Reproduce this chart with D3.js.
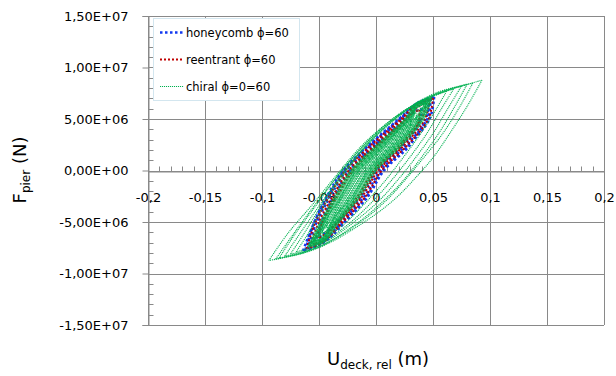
<!DOCTYPE html>
<html>
<head>
<meta charset="utf-8">
<script src="https://cdn.jsdelivr.net/npm/d3@7"></script>
<style>
body { margin: 0; background: #fff; }
svg { display: block; }
text { font-family: "DejaVu Sans", sans-serif; fill: #000; }
</style>
</head>
<body>
<div id="chart"></div>
<script>
// Size
var chart_width  = 616;
var chart_height = 376;

// Axis ticks
var xTicks      = [-0.2, -0.15, -0.1, -0.05, 0, 0.05, 0.1, 0.15, 0.2];
var xTickLabels = ["-0,2", "-0,15", "-0,1", "-0,05", "0", "0,05", "0,1", "0,15", "0,2"];
var yTicks      = [1.5e7, 1e7, 5e6, 0, -5e6, -1e7, -1.5e7];
var yTickLabels = ["1,50E+07", "1,00E+07", "5,00E+06", "0,00E+00", "-5,00E+06", "-1,00E+07", "-1,50E+07"];

var seriesNames = ["honeycomb \u03d5=60", "reentrant \u03d5=60", "chiral \u03d5=0=60"];

// Hysteresis loops: [up branch, down branch], points are [U (m), F (MN)]
var honeycombLoops = [
  [[[-0.064,-7.8],[-0.054,-5],[-0.042,-2.5],[-0.028,0],[-0.005,2.5],[0.021,5],[0.037,6.6],[0.051,7.15]],
   [[0.051,7.15],[0.047,5],[0.029,2.5],[0.006,0],[-0.008,-2.5],[-0.028,-5],[-0.048,-7.1],[-0.064,-7.8]]],
  [[[-0.060,-7.6],[-0.052,-5],[-0.040,-2.5],[-0.026,0],[-0.003,2.5],[0.022,5],[0.035,6.4],[0.048,7.0]],
   [[0.048,7.0],[0.045,5],[0.027,2.5],[0.004,0],[-0.010,-2.5],[-0.030,-5],[-0.046,-6.9],[-0.060,-7.6]]],
  [[[-0.062,-7.7],[-0.054,-5],[-0.043,-2.5],[-0.029,0],[-0.006,2.5],[0.020,5],[0.033,6.3],[0.046,6.9]],
   [[0.046,6.9],[0.045,5.4],[0.030,2.5],[0.007,0],[-0.007,-2.5],[-0.027,-5],[-0.046,-7.0],[-0.062,-7.7]]],
  [[[-0.052,-6.6],[-0.048,-5],[-0.037,-2.5],[-0.023,0],[0.000,2.5],[0.022,4.6],[0.032,5.6],[0.040,6.0]],
   [[0.040,6.0],[0.038,4.6],[0.024,2.5],[0.001,0],[-0.013,-2.5],[-0.033,-5],[-0.045,-6.1],[-0.052,-6.6]]]
];

var reentrantLoops = [
  [[[-0.061,-7.6],[-0.053,-5],[-0.041,-2.5],[-0.027,0],[-0.004,2.5],[0.022,5],[0.036,6.5],[0.050,7.05]],
   [[0.050,7.05],[0.046,5],[0.028,2.5],[0.005,0],[-0.009,-2.5],[-0.029,-5],[-0.047,-7.0],[-0.061,-7.6]]],
  [[[-0.058,-7.4],[-0.050,-5],[-0.038,-2.5],[-0.024,0],[-0.001,2.5],[0.024,5],[0.036,6.3],[0.047,6.9]],
   [[0.047,6.9],[0.043,5],[0.025,2.5],[0.002,0],[-0.012,-2.5],[-0.031,-5],[-0.046,-6.8],[-0.058,-7.4]]],
  [[[-0.055,-7.2],[-0.047,-5],[-0.034,-2.5],[-0.020,0],[0.003,2.5],[0.027,5],[0.036,6.1],[0.044,6.6]],
   [[0.044,6.6],[0.040,5],[0.021,2.5],[-0.002,0],[-0.016,-2.5],[-0.034,-5],[-0.046,-6.6],[-0.055,-7.2]]],
  [[[-0.050,-6.6],[-0.047,-5],[-0.036,-2.5],[-0.022,0],[0.001,2.5],[0.023,4.7],[0.031,5.5],[0.038,5.9]],
   [[0.038,5.9],[0.037,4.6],[0.023,2.5],[0.000,0],[-0.014,-2.5],[-0.033,-5],[-0.044,-6.1],[-0.050,-6.6]]]
];

var chiralLoops = [
  // wide loops
  [[[-0.094,-8.74],[-0.077,-6.06],[-0.057,-3.47],[-0.033,-0.23],[-0.013,2.36],[0.010,4.62],[0.031,6.24],[0.057,7.53],[0.093,8.77]],
   [[0.093,8.77],[0.080,6.24],[0.065,3.65],[0.051,1.39],[0.036,-0.55],[0.016,-2.82],[-0.007,-4.76],[-0.042,-7.09],[-0.064,-8.03],[-0.094,-8.74]]],
  [[[-0.088,-8.6],[-0.072,-6.1],[-0.054,-3.4],[-0.032,-0.3],[-0.011,2.4],[0.011,4.7],[0.032,6.3],[0.056,7.6],[0.080,8.4]],
   [[0.080,8.4],[0.069,6.2],[0.055,3.6],[0.038,1.0],[0.026,-0.7],[0.007,-2.9],[-0.014,-4.9],[-0.044,-7.1],[-0.064,-8.0],[-0.088,-8.6]]],
  [[[-0.085,-8.5],[-0.070,-6.0],[-0.052,-3.3],[-0.030,0],[-0.010,2.5],[0.012,4.7],[0.033,6.3],[0.057,7.6],[0.085,8.5]],
   [[0.085,8.5],[0.073,6.1],[0.058,3.5],[0.040,1.0],[0.028,-0.6],[0.010,-2.8],[-0.011,-4.8],[-0.042,-7.0],[-0.062,-7.9],[-0.085,-8.5]]],
  [[[-0.080,-8.3],[-0.066,-6.0],[-0.049,-3.3],[-0.029,-0.3],[-0.009,2.4],[0.013,4.7],[0.033,6.4],[0.054,7.6],[0.075,8.2]],
   [[0.075,8.2],[0.064,6.2],[0.050,3.6],[0.033,1.0],[0.020,-0.8],[0.003,-2.9],[-0.018,-4.9],[-0.046,-7.1],[-0.063,-7.9],[-0.080,-8.3]]],
  [[[-0.075,-8.1],[-0.063,-6.1],[-0.048,-3.4],[-0.030,-0.4],[-0.010,2.3],[0.012,4.6],[0.031,6.2],[0.050,7.3],[0.068,7.9]],
   [[0.068,7.9],[0.058,6.1],[0.044,3.5],[0.027,0.9],[0.014,-0.9],[-0.003,-3.0],[-0.023,-5.1],[-0.048,-7.1],[-0.062,-7.8],[-0.075,-8.1]]],
  [[[-0.070,-7.9],[-0.060,-6.2],[-0.046,-3.5],[-0.029,-0.5],[-0.009,2.3],[0.013,4.6],[0.031,6.1],[0.048,7.1],[0.062,7.7]],
   [[0.062,7.7],[0.053,6.0],[0.038,3.4],[0.020,0.7],[0.008,-1.0],[-0.009,-3.1],[-0.028,-5.2],[-0.050,-7.0],[-0.061,-7.6],[-0.070,-7.9]]],
  // dense band
  [[[-0.060,-7.40],[-0.0492,-5],[-0.0365,-2.5],[-0.0225,0],[0.0005,2.5],[0.0250,5],[0.0352,6.55],[0.049,7.05]],
   [[0.049,7.05],[0.0422,5],[0.0235,2.5],[0.0005,0],[-0.0135,-2.5],[-0.0320,-5],[-0.0462,-6.95],[-0.060,-7.40]]],
  [[[-0.059,-7.35],[-0.0484,-5],[-0.0355,-2.5],[-0.0215,0],[0.0015,2.5],[0.0257,5],[0.0348,6.5],[0.048,7.00]],
   [[0.048,7.00],[0.0414,5],[0.0225,2.5],[-0.0005,0],[-0.0145,-2.5],[-0.0327,-5],[-0.0458,-6.9],[-0.059,-7.35]]],
  [[[-0.059,-7.30],[-0.0476,-5],[-0.0345,-2.5],[-0.0205,0],[0.0025,2.5],[0.0263,5],[0.0352,6.45],[0.048,6.95]],
   [[0.048,6.95],[0.0406,5],[0.0215,2.5],[-0.0015,0],[-0.0155,-2.5],[-0.0334,-5],[-0.0462,-6.85],[-0.059,-7.30]]],
  [[[-0.058,-7.25],[-0.0468,-5],[-0.0335,-2.5],[-0.0195,0],[0.0035,2.5],[0.0270,5],[0.0348,6.4],[0.047,6.90]],
   [[0.047,6.90],[0.0398,5],[0.0205,2.5],[-0.0025,0],[-0.0165,-2.5],[-0.0340,-5],[-0.0458,-6.8],[-0.058,-7.25]]],
  [[[-0.058,-7.20],[-0.0460,-5],[-0.0325,-2.5],[-0.0185,0],[0.0045,2.5],[0.0278,5],[0.0352,6.35],[0.047,6.85]],
   [[0.047,6.85],[0.0390,5],[0.0195,2.5],[-0.0035,0],[-0.0175,-2.5],[-0.0348,-5],[-0.0462,-6.75],[-0.058,-7.20]]],
  [[[-0.057,-7.15],[-0.0452,-5],[-0.0315,-2.5],[-0.0175,0],[0.0055,2.5],[0.0285,5],[0.0348,6.3],[0.046,6.80]],
   [[0.046,6.80],[0.0382,5],[0.0185,2.5],[-0.0045,0],[-0.0185,-2.5],[-0.0355,-5],[-0.0458,-6.7],[-0.057,-7.15]]],
  [[[-0.057,-7.10],[-0.0444,-5],[-0.0305,-2.5],[-0.0165,0],[0.0065,2.5],[0.0292,5],[0.0352,6.25],[0.046,6.75]],
   [[0.046,6.75],[0.0374,5],[0.0175,2.5],[-0.0055,0],[-0.0195,-2.5],[-0.0362,-5],[-0.0462,-6.65],[-0.057,-7.10]]],
  [[[-0.056,-7.05],[-0.0436,-5],[-0.0295,-2.5],[-0.0155,0],[0.0075,2.5],[0.0299,5],[0.0348,6.2],[0.045,6.70]],
   [[0.045,6.70],[0.0366,5],[0.0165,2.5],[-0.0065,0],[-0.0205,-2.5],[-0.0369,-5],[-0.0458,-6.6],[-0.056,-7.05]]],
  [[[-0.056,-7.00],[-0.0428,-5],[-0.0285,-2.5],[-0.0145,0],[0.0085,2.5],[0.0306,5],[0.0352,6.15],[0.045,6.65]],
   [[0.045,6.65],[0.0358,5],[0.0155,2.5],[-0.0075,0],[-0.0215,-2.5],[-0.0376,-5],[-0.0462,-6.55],[-0.056,-7.00]]],
  [[[-0.055,-6.95],[-0.0420,-5],[-0.0275,-2.5],[-0.0135,0],[0.0095,2.5],[0.0312,5],[0.0348,6.1],[0.044,6.60]],
   [[0.044,6.60],[0.0350,5],[0.0145,2.5],[-0.0085,0],[-0.0225,-2.5],[-0.0382,-5],[-0.0458,-6.5],[-0.055,-6.95]]],
  [[[-0.055,-6.90],[-0.0412,-5],[-0.0265,-2.5],[-0.0125,0],[0.0105,2.5],[0.0320,5],[0.0352,6.05],[0.044,6.55]],
   [[0.044,6.55],[0.0342,5],[0.0135,2.5],[-0.0095,0],[-0.0235,-2.5],[-0.0390,-5],[-0.0462,-6.45],[-0.055,-6.90]]],
  [[[-0.054,-6.85],[-0.0406,-5],[-0.0258,-2.5],[-0.0118,0],[0.0112,2.5],[0.0324,5],[0.0346,6.0],[0.043,6.50]],
   [[0.043,6.50],[0.0336,5],[0.0128,2.5],[-0.0102,0],[-0.0242,-2.5],[-0.0394,-5],[-0.0456,-6.4],[-0.054,-6.85]]],
  [[[-0.055,-6.9],[-0.048,-5],[-0.035,-2.5],[-0.021,0],[0.002,2.5],[0.026,5],[0.035,6.0],[0.044,6.5]],
   [[0.044,6.5],[0.041,5],[0.022,2.5],[-0.001,0],[-0.015,-2.5],[-0.033,-5],[-0.047,-6.4],[-0.055,-6.9]]],
  [[[-0.051,-6.5],[-0.045,-5],[-0.031,-2.5],[-0.017,0],[0.006,2.5],[0.028,4.8],[0.034,5.6],[0.040,6.1]],
   [[0.040,6.1],[0.037,4.8],[0.018,2.5],[-0.005,0],[-0.019,-2.5],[-0.036,-5],[-0.045,-6.0],[-0.051,-6.5]]],
  [[[-0.047,-6.1],[-0.046,-5],[-0.033,-2.5],[-0.019,0],[0.004,2.5],[0.025,4.6],[0.030,5.2],[0.035,5.6]],
   [[0.035,5.6],[0.035,4.6],[0.020,2.5],[-0.003,0],[-0.017,-2.5],[-0.035,-5],[-0.042,-5.7],[-0.047,-6.1]]],
  [[[-0.043,-5.6],[-0.042,-4.5],[-0.029,-2.5],[-0.015,0],[0.008,2.5],[0.022,4.2],[0.027,4.7],[0.030,5.0]],
   [[0.030,5.0],[0.030,4.2],[0.016,2.5],[-0.007,0],[-0.021,-2.5],[-0.036,-4.5],[-0.040,-5.2],[-0.043,-5.6]]]
];

var series = [
  { name: seriesNames[0], loops: honeycombLoops, color: "#1238f0", width: 2.5, dash: "2.5,2.5" },
  { name: seriesNames[1], loops: reentrantLoops, color: "#c00000", width: 2,   dash: "2,2" },
  { name: seriesNames[2], loops: chiralLoops,    color: "#00b050", width: 1.1, dash: "1.1,0.9" }
];

// Scales
var x = d3.scaleLinear().domain([-0.2, 0.2]).range([148, 604]);
var y = d3.scaleLinear().domain([-1.5e7, 1.5e7]).range([325, 16]);

var svg = d3.select("#chart")
    .append("svg")
    .attr("width", chart_width)
    .attr("height", chart_height);

var gridColor = "#898989";

// Grid
svg.append("g").selectAll("line")
    .data(xTicks)
    .enter()
    .append("line")
    .attr("x1", function(d){ return Math.round(x(d)) + 0.5; })
    .attr("x2", function(d){ return Math.round(x(d)) + 0.5; })
    .attr("y1", y(1.5e7))
    .attr("y2", y(-1.5e7))
    .attr("stroke", gridColor)
    .attr("stroke-width", 1);

svg.append("g").selectAll("line")
    .data(yTicks)
    .enter()
    .append("line")
    .attr("x1", x(-0.2))
    .attr("x2", x(0.2))
    .attr("y1", function(d){ return Math.round(y(d)) + 0.5; })
    .attr("y2", function(d){ return Math.round(y(d)) + 0.5; })
    .attr("stroke", gridColor)
    .attr("stroke-width", 1);

// Minor ticks
var xMinor = d3.range(-20, 21).filter(function(i){ return i % 5 !== 0; }).map(function(i){ return i / 100; });
var yMinor = d3.range(-15, 16).filter(function(i){ return i % 5 !== 0; }).map(function(i){ return i * 1e6; });

var y0 = Math.round(y(0)) + 0.5;
var x0 = Math.round(x(-0.2)) + 0.5;

svg.append("g").selectAll("line")
    .data(xMinor)
    .enter()
    .append("line")
    .attr("x1", function(d){ return Math.round(x(d)) + 0.5; })
    .attr("x2", function(d){ return Math.round(x(d)) + 0.5; })
    .attr("y1", y0)
    .attr("y2", y0 - 5)
    .attr("stroke", gridColor);

svg.append("g").selectAll("line")
    .data(yMinor)
    .enter()
    .append("line")
    .attr("x1", x0)
    .attr("x2", x0 + 5)
    .attr("y1", function(d){ return Math.round(y(d)) + 0.5; })
    .attr("y2", function(d){ return Math.round(y(d)) + 0.5; })
    .attr("stroke", gridColor);

// Axes (labels)
var xAxis = d3.axisBottom(x)
    .tickValues(xTicks)
    .tickFormat(function(d, i){ return xTickLabels[i]; })
    .tickSize(0)
    .tickPadding(21);

var gx = svg.append("g")
    .attr("transform", "translate(0," + y0 + ")")
    .call(xAxis);
gx.select(".domain").attr("stroke", gridColor);
gx.selectAll("text").attr("font-size", 13).attr("font-family", "DejaVu Sans");

var yAxis = d3.axisLeft(y)
    .tickValues(yTicks)
    .tickFormat(function(d, i){ return yTickLabels[i]; })
    .tickSize(6)
    .tickPadding(14);

var gy = svg.append("g")
    .attr("transform", "translate(" + x0 + ",0)")
    .call(yAxis);
gy.select(".domain").attr("stroke", gridColor);
gy.selectAll(".tick line").attr("stroke", gridColor);
gy.selectAll("text").attr("font-size", 13).attr("font-family", "DejaVu Sans");

// Loops
var line = d3.line()
    .x(function(d){ return x(d[0]); })
    .y(function(d){ return y(d[1] * 1e6); })
    .curve(d3.curveCatmullRom.alpha(0.5));

series.forEach(function(s){
    var g = svg.append("g");
    s.loops.forEach(function(loop){
        g.selectAll(null)
            .data(loop)
            .enter()
            .append("path")
            .attr("d", line)
            .attr("fill", "none")
            .attr("stroke", s.color)
            .attr("stroke-width", s.width)
            .attr("stroke-dasharray", s.dash);
    });
});

// Legend
var legend = svg.append("g");
legend.append("rect")
    .attr("x", 153.5)
    .attr("y", 18.5)
    .attr("width", 146)
    .attr("height", 82)
    .attr("fill", "#fff")
    .attr("stroke", "#d3e6ef");

var items = legend.selectAll("g.item")
    .data(series)
    .enter()
    .append("g")
    .attr("transform", function(d, i){ return "translate(0," + (32.5 + i * 27) + ")"; });

items.append("line")
    .attr("x1", 160)
    .attr("x2", 184)
    .attr("stroke", function(d){ return d.color; })
    .attr("stroke-width", function(d){ return d.width; })
    .attr("stroke-dasharray", function(d){ return d.dash; });

items.append("text")
    .attr("x", 186)
    .attr("dy", "0.35em")
    .attr("font-size", 11.5)
    .text(function(d){ return d.name; });

// Axis titles
var xt = svg.append("text")
    .attr("x", 378)
    .attr("y", 365)
    .attr("text-anchor", "middle")
    .attr("font-size", 18);
xt.append("tspan").text("U");
xt.append("tspan").attr("dy", 4).attr("font-size", 12).text("deck, rel");
xt.append("tspan").attr("dy", -4).text(" (m)");

var yt = svg.append("text")
    .attr("transform", "translate(26,170) rotate(-90)")
    .attr("text-anchor", "middle")
    .attr("font-size", 18);
yt.append("tspan").text("F");
yt.append("tspan").attr("dy", 4).attr("font-size", 12).text("pier");
yt.append("tspan").attr("dy", -4).text(" (N)");
</script>
</body>
</html>
